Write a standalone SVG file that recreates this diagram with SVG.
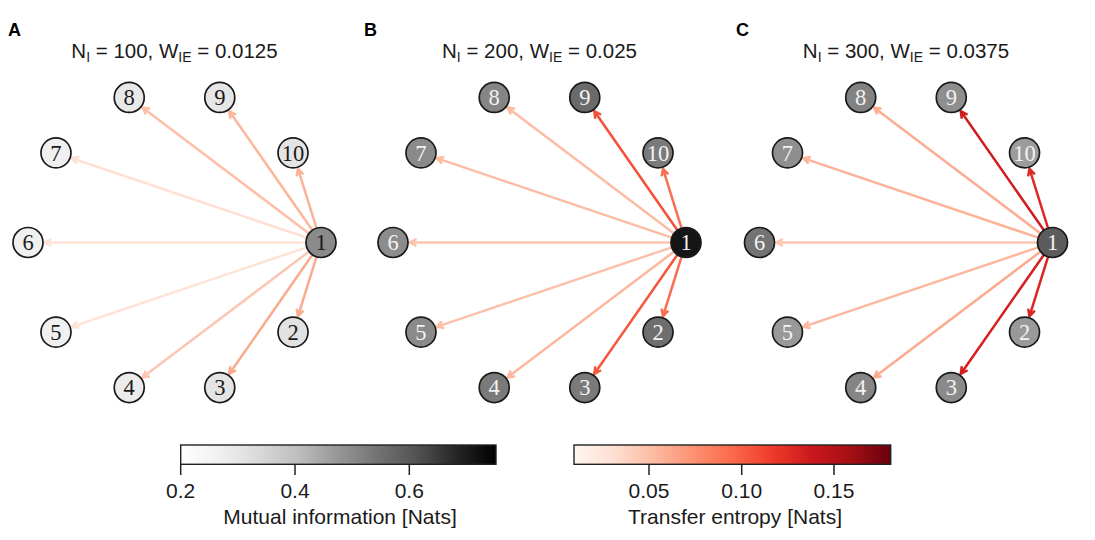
<svg xmlns="http://www.w3.org/2000/svg" width="1095" height="540" viewBox="0 0 1095 540">
<style>
.plet{font-family:"Liberation Sans",Arial,sans-serif;font-weight:bold;font-size:18px;fill:#000}
.ttl{font-family:"Liberation Sans",Arial,sans-serif;font-size:20.5px;fill:#1a1a1a;text-anchor:middle}
.sub{font-size:14px}
.nd circle{stroke:#1a1a1a;stroke-width:1.7}
.nd text{font-family:"Liberation Serif","Times New Roman",serif;font-size:22.5px;text-anchor:middle}
.dk text{fill:#1a1a1a}
.lt text{fill:#f2f2f2}
.e{fill:none;stroke-width:2.5;stroke-linejoin:miter;stroke-linecap:butt}
.tick{stroke:#222;stroke-width:1.5}
.cbl{font-family:"Liberation Sans",Arial,sans-serif;font-size:21px;fill:#1a1a1a;text-anchor:middle}
</style>
<defs>
<linearGradient id="greys" x1="0" x2="1" y1="0" y2="0">
<stop offset="0" stop-color="#ffffff"/><stop offset="0.125" stop-color="#f0f0f0"/><stop offset="0.25" stop-color="#d9d9d9"/><stop offset="0.375" stop-color="#bdbdbd"/><stop offset="0.5" stop-color="#969696"/><stop offset="0.625" stop-color="#737373"/><stop offset="0.75" stop-color="#525252"/><stop offset="0.875" stop-color="#252525"/><stop offset="1" stop-color="#000000"/>
</linearGradient>
<linearGradient id="reds" x1="0" x2="1" y1="0" y2="0">
<stop offset="0" stop-color="#fff5f0"/><stop offset="0.125" stop-color="#fee0d2"/><stop offset="0.25" stop-color="#fcbba1"/><stop offset="0.375" stop-color="#fc9272"/><stop offset="0.5" stop-color="#fb6a4a"/><stop offset="0.625" stop-color="#ef3b2c"/><stop offset="0.75" stop-color="#cb181d"/><stop offset="0.875" stop-color="#a50f15"/><stop offset="1" stop-color="#67000d"/>
</linearGradient>
</defs>
<rect width="1095" height="540" fill="#ffffff"/>

<text class="plet" x="8" y="36">A</text>
<text class="plet" x="364" y="36">B</text>
<text class="plet" x="736" y="36">C</text>

<text class="ttl" x="174.5" y="58">N<tspan class="sub" dy="4">I</tspan><tspan dy="-4"> = 100, W</tspan><tspan class="sub" dy="4">IE</tspan><tspan dy="-4"> = 0.0125</tspan></text>
<text class="ttl" x="539.5" y="58">N<tspan class="sub" dy="4">I</tspan><tspan dy="-4"> = 200, W</tspan><tspan class="sub" dy="4">IE</tspan><tspan dy="-4"> = 0.025</tspan></text>
<text class="ttl" x="906" y="58">N<tspan class="sub" dy="4">I</tspan><tspan dy="-4"> = 300, W</tspan><tspan class="sub" dy="4">IE</tspan><tspan dy="-4"> = 0.0375</tspan></text>

<g id="connectors">
<g id="edgesA" transform="translate(174.5,242.5)">
<path class="e" stroke="#fee4d8" d="M131.5,0 L-130,0 M-123,-3.5 L-130,0 L-123,3.5"/>
<path class="e" stroke="#fee2d5" d="M132.29,4.81 L-102.89,84.34 M-97.38,78.78 L-102.89,84.34 L-95.14,85.42"/>
<path class="e" stroke="#fde0d2" d="M132.29,-4.81 L-102.89,-84.34 M-95.14,-85.42 L-102.89,-84.34 L-97.38,-78.78"/>
<path class="e" stroke="#fcc7b2" d="M134.54,9.05 L-32.11,135.09 M-28.64,128.08 L-32.11,135.09 L-24.42,133.66"/>
<path class="e" stroke="#fcc0a8" d="M134.54,-9.05 L-32.11,-135.09 M-28.64,-128.08 L-32.11,-135.09 L-24.42,-133.66"/>
<path class="e" stroke="#fbb69c" d="M137.92,-12.3 L54.71,-131.51 M55.85,-123.77 L54.71,-131.51 L61.59,-127.77"/>
<path class="e" stroke="#f9ab90" d="M137.92,12.3 L54.71,131.51 M55.85,123.77 L54.71,131.51 L61.59,127.77"/>
<path class="e" stroke="#fbb398" d="M142.03,-14.32 L123.44,-73.88 M122.18,-66.16 L123.44,-73.88 L128.86,-68.24"/>
<path class="e" stroke="#f9ab90" d="M142.03,14.32 L123.44,73.88 M122.18,66.16 L123.44,73.88 L128.86,68.24"/>
</g>
<g id="edgesB" transform="translate(539.5,242.5)">
<path class="e" stroke="#fcc4ad" d="M131.5,0 L-130,0 M-123,-3.5 L-130,0 L-123,3.5"/>
<path class="e" stroke="#fcc0a8" d="M132.29,4.81 L-102.89,84.34 M-97.38,78.78 L-102.89,84.34 L-95.14,85.42"/>
<path class="e" stroke="#fcbda4" d="M132.29,-4.81 L-102.89,-84.34 M-95.14,-85.42 L-102.89,-84.34 L-97.38,-78.78"/>
<path class="e" stroke="#fcb89e" d="M134.54,9.05 L-32.11,135.09 M-28.64,128.08 L-32.11,135.09 L-24.42,133.66"/>
<path class="e" stroke="#fcbca2" d="M134.54,-9.05 L-32.11,-135.09 M-28.64,-128.08 L-32.11,-135.09 L-24.42,-133.66"/>
<path class="e" stroke="#f4503a" d="M137.92,-12.3 L54.71,-131.51 M55.85,-123.77 L54.71,-131.51 L61.59,-127.77"/>
<path class="e" stroke="#f5583c" d="M137.92,12.3 L54.71,131.51 M55.85,123.77 L54.71,131.51 L61.59,127.77"/>
<path class="e" stroke="#f8714f" d="M142.03,-14.32 L123.44,-73.88 M122.18,-66.16 L123.44,-73.88 L128.86,-68.24"/>
<path class="e" stroke="#f86e4f" d="M142.03,14.32 L123.44,73.88 M122.18,66.16 L123.44,73.88 L128.86,68.24"/>
</g>
<g id="edgesC" transform="translate(906,242.5)">
<path class="e" stroke="#fdc6b0" d="M131.5,0 L-130,0 M-123,-3.5 L-130,0 L-123,3.5"/>
<path class="e" stroke="#fcb89e" d="M132.29,4.81 L-102.89,84.34 M-97.38,78.78 L-102.89,84.34 L-95.14,85.42"/>
<path class="e" stroke="#fcb398" d="M132.29,-4.81 L-102.89,-84.34 M-95.14,-85.42 L-102.89,-84.34 L-97.38,-78.78"/>
<path class="e" stroke="#fcab8f" d="M134.54,9.05 L-32.11,135.09 M-28.64,128.08 L-32.11,135.09 L-24.42,133.66"/>
<path class="e" stroke="#fcad92" d="M134.54,-9.05 L-32.11,-135.09 M-28.64,-128.08 L-32.11,-135.09 L-24.42,-133.66"/>
<path class="e" stroke="#d01d1f" d="M137.92,-12.3 L54.71,-131.51 M55.85,-123.77 L54.71,-131.51 L61.59,-127.77"/>
<path class="e" stroke="#d42020" d="M137.92,12.3 L54.71,131.51 M55.85,123.77 L54.71,131.51 L61.59,127.77"/>
<path class="e" stroke="#dc2a25" d="M142.03,-14.32 L123.44,-73.88 M122.18,-66.16 L123.44,-73.88 L128.86,-68.24"/>
<path class="e" stroke="#d92523" d="M142.03,14.32 L123.44,73.88 M122.18,66.16 L123.44,73.88 L128.86,68.24"/>
</g>
</g>

<!-- Panel A nodes -->
<g id="A1" class="nd dk" transform="translate(321,242.5)"><circle r="15" fill="#8a8a8a"/><text y="7.8">1</text></g>
<g id="A2" class="nd dk" transform="translate(293.02,332.13)"><circle r="15" fill="#e2e2e2"/><text y="7.8">2</text></g>
<g id="A3" class="nd dk" transform="translate(219.77,387.54)"><circle r="15" fill="#e4e4e4"/><text y="7.8">3</text></g>
<g id="A4" class="nd dk" transform="translate(129.23,387.54)"><circle r="15" fill="#ececec"/><text y="7.8">4</text></g>
<g id="A5" class="nd dk" transform="translate(55.98,332.13)"><circle r="15" fill="#f0f0f0"/><text y="7.8">5</text></g>
<g id="A6" class="nd dk" transform="translate(28,242.5)"><circle r="15" fill="#f0f0f0"/><text y="7.8">6</text></g>
<g id="A7" class="nd dk" transform="translate(55.98,152.87)"><circle r="15" fill="#f0f0f0"/><text y="7.8">7</text></g>
<g id="A8" class="nd dk" transform="translate(129.23,97.46)"><circle r="15" fill="#e8e8e8"/><text y="7.8">8</text></g>
<g id="A9" class="nd dk" transform="translate(219.77,97.46)"><circle r="15" fill="#e6e6e6"/><text y="7.8">9</text></g>
<g id="A10" class="nd dk" transform="translate(293.02,152.87)"><circle r="15" fill="#e4e4e4"/><text y="7.8">10</text></g>

<!-- Panel B nodes -->
<g id="B1" class="nd lt" transform="translate(686,242.5)"><circle r="15" fill="#151515"/><text y="7.8">1</text></g>
<g id="B2" class="nd lt" transform="translate(658.02,332.13)"><circle r="15" fill="#6e6e6e"/><text y="7.8">2</text></g>
<g id="B3" class="nd lt" transform="translate(584.77,387.54)"><circle r="15" fill="#7a7a7a"/><text y="7.8">3</text></g>
<g id="B4" class="nd lt" transform="translate(494.23,387.54)"><circle r="15" fill="#7a7a7a"/><text y="7.8">4</text></g>
<g id="B5" class="nd lt" transform="translate(420.98,332.13)"><circle r="15" fill="#8a8a8a"/><text y="7.8">5</text></g>
<g id="B6" class="nd lt" transform="translate(393,242.5)"><circle r="15" fill="#8c8c8c"/><text y="7.8">6</text></g>
<g id="B7" class="nd lt" transform="translate(420.98,152.87)"><circle r="15" fill="#8a8a8a"/><text y="7.8">7</text></g>
<g id="B8" class="nd lt" transform="translate(494.23,97.46)"><circle r="15" fill="#858585"/><text y="7.8">8</text></g>
<g id="B9" class="nd lt" transform="translate(584.77,97.46)"><circle r="15" fill="#6a6a6a"/><text y="7.8">9</text></g>
<g id="B10" class="nd lt" transform="translate(658.02,152.87)"><circle r="15" fill="#7a7a7a"/><text y="7.8">10</text></g>

<!-- Panel C nodes -->
<g id="C1" class="nd lt" transform="translate(1052.5,242.5)"><circle r="15" fill="#5c5c5c"/><text y="7.8">1</text></g>
<g id="C2" class="nd lt" transform="translate(1024.52,332.13)"><circle r="15" fill="#999999"/><text y="7.8">2</text></g>
<g id="C3" class="nd lt" transform="translate(951.27,387.54)"><circle r="15" fill="#8a8a8a"/><text y="7.8">3</text></g>
<g id="C4" class="nd lt" transform="translate(860.73,387.54)"><circle r="15" fill="#858585"/><text y="7.8">4</text></g>
<g id="C5" class="nd lt" transform="translate(787.48,332.13)"><circle r="15" fill="#999999"/><text y="7.8">5</text></g>
<g id="C6" class="nd lt" transform="translate(759.5,242.5)"><circle r="15" fill="#737373"/><text y="7.8">6</text></g>
<g id="C7" class="nd lt" transform="translate(787.48,152.87)"><circle r="15" fill="#8f8f8f"/><text y="7.8">7</text></g>
<g id="C8" class="nd lt" transform="translate(860.73,97.46)"><circle r="15" fill="#828282"/><text y="7.8">8</text></g>
<g id="C9" class="nd lt" transform="translate(951.27,97.46)"><circle r="15" fill="#8e8e8e"/><text y="7.8">9</text></g>
<g id="C10" class="nd lt" transform="translate(1024.52,152.87)"><circle r="15" fill="#9c9c9c"/><text y="7.8">10</text></g>

<!-- Colorbar: mutual information -->
<g id="cbar-mi">
<rect x="180.7" y="445" width="315.3" height="19.3" fill="url(#greys)" stroke="#222" stroke-width="1.4"/>
<line class="tick" x1="180.7" y1="464.3" x2="180.7" y2="475"/>
<line class="tick" x1="295" y1="464.3" x2="295" y2="475"/>
<line class="tick" x1="409.3" y1="464.3" x2="409.3" y2="475"/>
<text class="cbl" x="180.7" y="498">0.2</text>
<text class="cbl" x="295" y="498">0.4</text>
<text class="cbl" x="409.3" y="498">0.6</text>
<text class="cbl" x="340" y="524" font-size="21.5">Mutual information [Nats]</text>
</g>
<!-- Colorbar: transfer entropy -->
<g id="cbar-te">
<rect x="574" y="445" width="316.7" height="19.3" fill="url(#reds)" stroke="#222" stroke-width="1.4"/>
<line class="tick" x1="649" y1="464.3" x2="649" y2="475"/>
<line class="tick" x1="741.7" y1="464.3" x2="741.7" y2="475"/>
<line class="tick" x1="834" y1="464.3" x2="834" y2="475"/>
<text class="cbl" x="649" y="498">0.05</text>
<text class="cbl" x="741.7" y="498">0.10</text>
<text class="cbl" x="834" y="498">0.15</text>
<text class="cbl" x="735" y="524" font-size="21.5">Transfer entropy [Nats]</text>
</g>
</svg>
